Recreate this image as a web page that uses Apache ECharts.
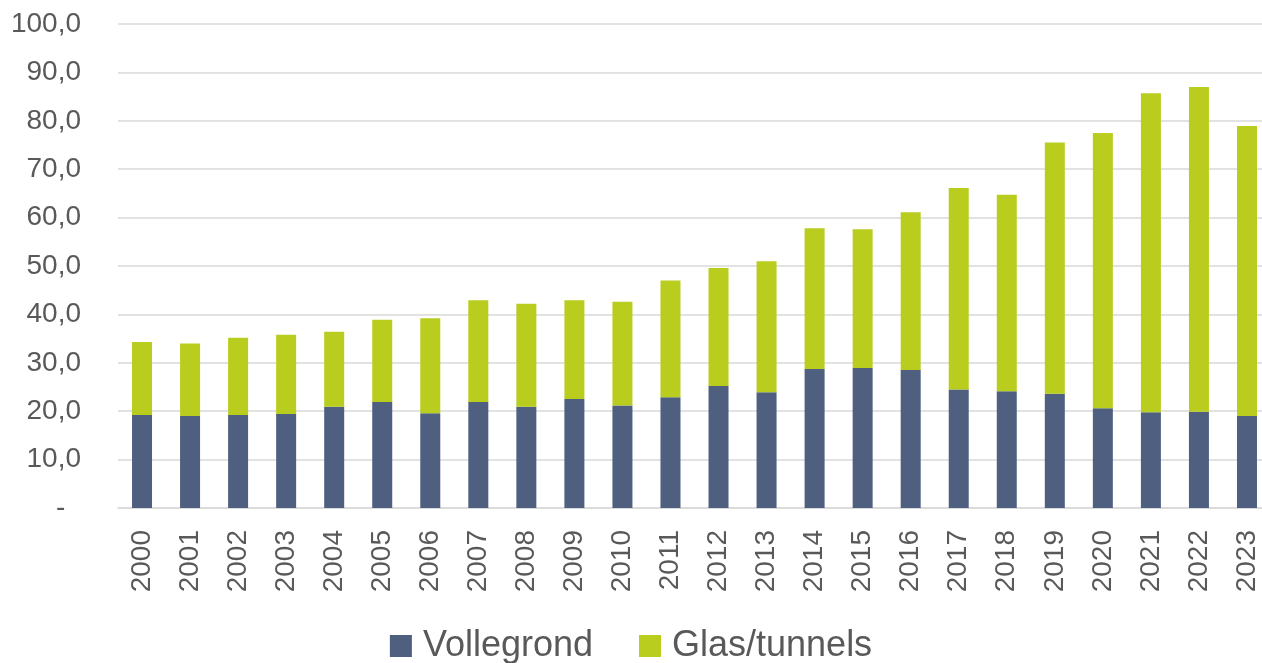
<!DOCTYPE html>
<html>
<head>
<meta charset="utf-8">
<script src="https://cdn.jsdelivr.net/npm/echarts@6/dist/echarts.min.js"></script>
<style>
  html, body { margin: 0; padding: 0; background: #fff; }
  #chart { width: 1262px; height: 663px; }
</style>
</head>
<body>
<div id="chart"></div>
<script>
// categories and values
var years = ["2000", "2001", "2002", "2003", "2004", "2005", "2006", "2007", "2008", "2009", "2010", "2011",
  "2012", "2013", "2014", "2015", "2016", "2017", "2018", "2019", "2020", "2021", "2022", "2023"];
var vollegrond = [19.2, 19.0, 19.2, 19.4, 20.9, 21.9, 19.6, 21.9, 20.9, 22.5, 21.2, 22.9,
  25.2, 23.9, 28.7, 28.9, 28.5, 24.5, 24.1, 23.6, 20.6, 19.8, 19.9, 19.0];
var glasTunnels = [15.1, 15.0, 16.0, 16.4, 15.5, 17.0, 19.6, 21.0, 21.3, 20.4, 21.4, 24.1,
  24.4, 27.1, 29.1, 28.7, 32.6, 41.6, 40.6, 51.9, 56.9, 65.9, 67.1, 59.9];

var textColor = "#595959";
var font = "'Liberation Sans', Arial, sans-serif";

var myChart = echarts.init(document.getElementById("chart"));

var option = {
  animation: false,
  grid: {
    left: 118,
    top: 24,
    width: 1153,
    height: 484,
    outerBoundsMode: "none"
  },
  legend: {
    bottom: -6,
    left: "center",
    itemWidth: 22,
    itemHeight: 22,
    itemGap: 46,
    icon: "rect",
    textStyle: {
      color: textColor,
      fontSize: 36,
      fontFamily: font,
      padding: [0, 0, 0, 6]
    },
    data: ["Vollegrond", "Glas/tunnels"]
  },
  xAxis: {
    type: "category",
    data: years,
    axisLine: { lineStyle: { color: "#d9d9d9", width: 1.5 } },
    axisTick: { show: false },
    axisLabel: {
      rotate: 90,
      margin: 22,
      color: textColor,
      fontSize: 28,
      fontFamily: font
    }
  },
  yAxis: {
    type: "value",
    min: 0,
    max: 100,
    interval: 10,
    axisLine: { show: false },
    axisTick: { show: false },
    splitLine: { lineStyle: { color: "#d9d9d9", width: 1.5 } },
    axisLabel: {
      margin: 37,
      color: textColor,
      fontSize: 28,
      fontFamily: font,
      formatter: function (v) {
        if (v === 0) return "-  ";
        return v.toFixed(1).replace(".", ",");
      }
    }
  },
  series: [
    {
      name: "Vollegrond",
      type: "bar",
      stack: "totaal",
      barWidth: 20,
      data: vollegrond,
      itemStyle: { color: "#4e5f80" }
    },
    {
      name: "Glas/tunnels",
      type: "bar",
      stack: "totaal",
      barWidth: 20,
      data: glasTunnels,
      itemStyle: { color: "#b9cd1e" }
    }
  ]
};

myChart.setOption(option);
</script>
</body>
</html>
